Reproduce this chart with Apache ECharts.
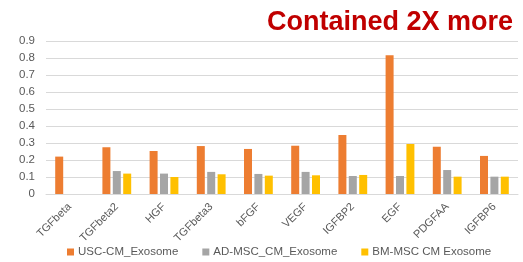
<!DOCTYPE html>
<html><head><meta charset="utf-8">
<script src="https://cdn.jsdelivr.net/npm/echarts@6/dist/echarts.min.js"></script>
<style>html,body{margin:0;padding:0;background:#fff}#c{width:523px;height:262px}</style>
</head><body><div id="c"></div>
<script>
const categories = ['TGFbeta','TGFbeta2','HGF','TGFbeta3','bFGF','VEGF','IGFBP2','EGF','PDGFAA','IGFBP6'];
const uscValues = [0.22, 0.275, 0.253, 0.282, 0.265, 0.284, 0.347, 0.816, 0.278, 0.224];
const adValues  = [0, 0.135, 0.12, 0.13, 0.118, 0.13, 0.106, 0.106, 0.141, 0.102];
const bmValues  = [0, 0.12, 0.10, 0.116, 0.108, 0.11, 0.112, 0.294, 0.102, 0.102];
const seriesNames = ['USC-CM_Exosome','AD-MSC_CM_Exosome','BM-MSC CM Exosome'];
const yTicks = [0,0.1,0.2,0.3,0.4,0.5,0.6,0.7,0.8,0.9];
const titleText = 'Contained 2X more';

const colors = ['#ED7D31','#A5A5A5','#FFC000'];
const chart = echarts.init(document.getElementById('c'));
const mk = (name, data, i) => ({
  name, type:'bar', data, barWidth:8, barGap:'30%',
  itemStyle:{color:colors[i]}
});
chart.setOption({
  animation:false,
  title:{text:titleText, right:5, top:4,
    textStyle:{color:'#C00000', fontFamily:'Liberation Sans, Arial', fontWeight:'bold', fontSize:27}},
  grid:{left:46, right:5, top:41, bottom:68, containLabel:false},
  legend:{top:241, left:62, itemWidth:7, itemHeight:7, itemGap:24, icon:'rect',
    textStyle:{color:'#595959', fontSize:11.5, fontFamily:'Liberation Sans, Arial', padding:[0,0,0,-1]},
    data:seriesNames},
  xAxis:{type:'category', data:categories,
    axisLine:{lineStyle:{color:'#D9D9D9'}}, axisTick:{show:false},
    axisLabel:{rotate:45, interval:0, color:'#595959', fontSize:11, fontFamily:'Liberation Sans, Arial', margin:11}},
  yAxis:{type:'value', min:0, max:0.9, interval:0.1,
    axisLine:{show:false}, axisTick:{show:false},
    splitLine:{lineStyle:{color:'#D9D9D9'}},
    axisLabel:{color:'#595959', fontSize:11.5, fontFamily:'Liberation Sans, Arial', margin:11,
      formatter:v=>{const t=yTicks.find(x=>Math.abs(x-v)<1e-9);return t===undefined?'':String(t);}}},
  series:[mk(seriesNames[0],uscValues,0), mk(seriesNames[1],adValues,1), mk(seriesNames[2],bmValues,2)]
});
</script></body></html>
